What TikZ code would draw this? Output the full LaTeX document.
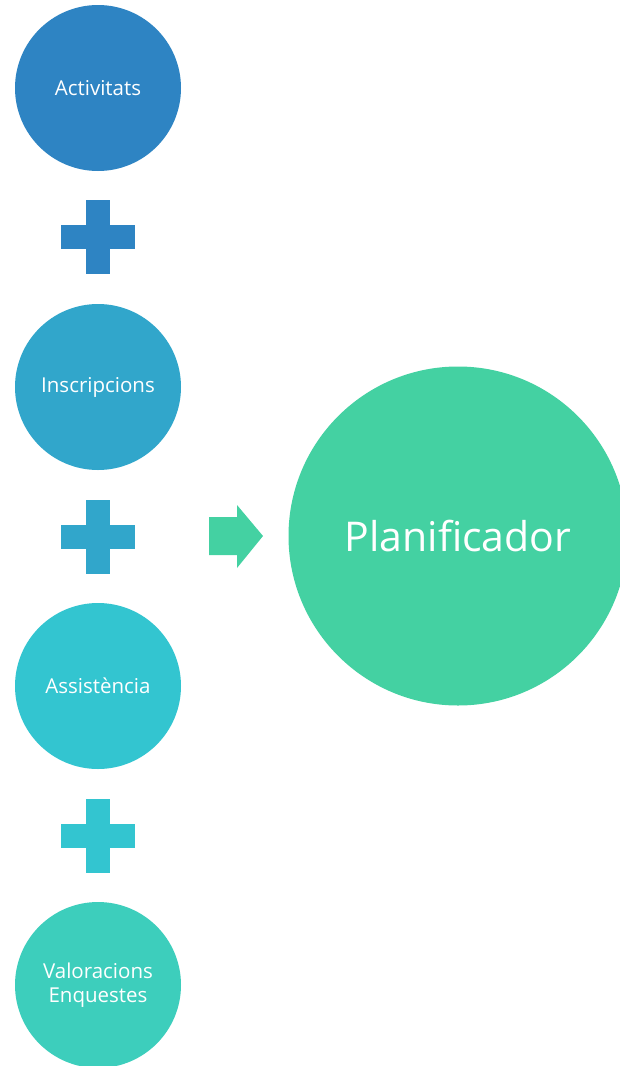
\documentclass[tikz,border=0pt]{standalone}
\usepackage{fontspec}
\setmainfont{Open Sans}
\usepackage{tikz}
\definecolor{cA}{HTML}{2E84C3}
\definecolor{cB}{HTML}{31A6CB}
\definecolor{cC}{HTML}{33C5D0}
\definecolor{cD}{HTML}{3DCEBC}
\definecolor{cE}{HTML}{44D1A2}

\begin{document}
\begin{tikzpicture}[x=1pt, y=-1pt, every text node part/.style={align=center},
  item/.style={circle, minimum size=166pt, inner sep=0pt, text=white, font=\fontsize{20.5}{23.5}\selectfont}]
\useasboundingbox (0,0) rectangle (620,1066);

\node [item, fill=cA] (act) at (98,88) {Activitats};
\node [item, fill=cB] (ins) at (98,387) {Inscripcions};
\node [item, fill=cC] (ass) at (98,686) {Assistència};
\node [item, fill=cD] (val) at (98,985) {Valoracions\\Enquestes};

\foreach \y/\c in {237/cA, 537/cB, 836/cC} {
  \fill [\c] (86,\y-37) rectangle (110,\y+37);
  \fill [\c] (61,\y-12) rectangle (135,\y+12);
}

\fill [cE] (209,517) -- (237,517) -- (237,505) -- (263,536) -- (237,568) -- (237,555) -- (209,555) -- cycle;

\node [circle, fill=cE, minimum size=339pt, inner sep=0pt, text=white,
  font=\fontsize{41}{43}\selectfont] (plan) at (458,536) {Planificador};
\end{tikzpicture}
\end{document}
